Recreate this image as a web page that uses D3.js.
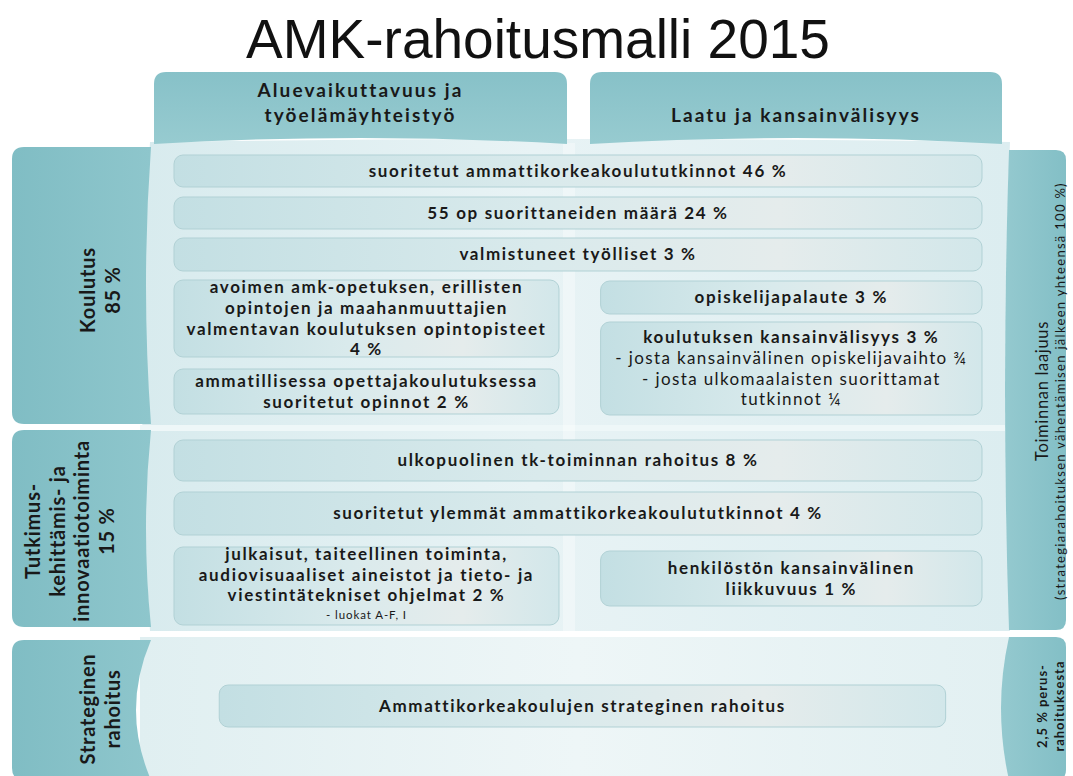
<!DOCTYPE html>
<html><head><meta charset="utf-8">
<script src="https://cdn.jsdelivr.net/npm/d3@7"></script>
<style>body{margin:0;background:#fff}svg{display:block}</style>
</head><body>
<svg id="chart" width="1073" height="776"></svg>
<script>
// ---------- data ----------
const titleText = "AMK-rahoitusmalli 2015";
const columnHeaders = [["Aluevaikuttavuus ja", "työelämäyhteistyö"], ["Laatu ja kansainvälisyys"]];
const sectionLines = [["Koulutus", "85 %"], ["Tutkimus-", "kehittämis- ja", "innovaatiotoiminta", "15 %"], ["Strateginen", "rahoitus"]];
const sideNoteMain = ["Toiminnan laajuus", "2,5 % perus-"];
const sideNoteSub = ["(strategiarahoituksen vähentämisen jälkeen yhteensä 100 %)", "rahoituksesta"];
const itemLines = [
  ["suoritetut ammattikorkeakoulututkinnot"],
  ["55 op suorittaneiden määrä"],
  ["valmistuneet työlliset"],
  ["avoimen amk-opetuksen, erillisten", "opintojen ja maahanmuuttajien", "valmentavan koulutuksen opintopisteet", ""],
  ["ammatillisessa opettajakoulutuksessa", "suoritetut opinnot"],
  ["opiskelijapalaute"],
  ["koulutuksen kansainvälisyys"],
  ["ulkopuolinen tk-toiminnan rahoitus"],
  ["suoritetut ylemmät ammattikorkeakoulututkinnot"],
  ["julkaisut, taiteellinen toiminta,", "audiovisuaaliset aineistot ja tieto- ja", "viestintätekniset ohjelmat"],
  ["henkilöstön kansainvälinen", "liikkuvuus"],
  ["Ammattikorkeakoulujen strateginen rahoitus"]
];
const itemShares = ["46", "24", "3", "4", "2", "3", "3", "8", "4", "2", "1", null];
const itemNotes = [[], [], [], [], [], [],
  ["- josta kansainvälinen opiskelijavaihto ¾", "- josta ulkomaalaisten suorittamat", "tutkinnot ¼"],
  [], [], ["- luokat A-F, I"], [], []];

// ---------- layout (positions / styles kept apart from data) ----------
const colSpan = {full: [0, 1], left: [0, 0.4765], right: [0.528, 1], strat: [0.056, 0.955]};
const itemLayout = [
  {col: "full", y: [155, 187]},
  {col: "full", y: [197, 229]},
  {col: "full", y: [238, 271]},
  {col: "left", y: [280, 357]},
  {col: "left", y: [369, 414]},
  {col: "right", y: [281, 314]},
  {col: "right", y: [322, 415]},
  {col: "full", y: [440, 481]},
  {col: "full", y: [492, 535]},
  {col: "left", y: [547, 625], shift: -2},
  {col: "right", y: [551, 606]},
  {col: "full", y: [685, 727], span: "strat"}
];
const noteKind = [null, null, null, null, null, null, "noteReg", null, null, "noteSmall", null, null];
const x = d3.scaleLinear().domain([0, 1]).range([174, 982]);
const FONT = "Lato, 'Open Sans', sans-serif";
const textCol = "#191919";

const svg = d3.select("#chart");

// text styles, letter-spacing calibrated so sample strings reach the widths seen in the picture
const styles = {
  itemBold: {w: 700, f: 17, sample: "valmentavan koulutuksen opintopisteet", target: 360},
  noteReg: {w: 400, f: 17, sample: "- josta kansainvälinen opiskelijavaihto ¾", target: 352},
  noteSmall: {w: 400, f: 11.5, sample: "- luokat A-F, I", target: 81},
  header: {w: 700, f: 19, sample: "Laatu ja kansainvälisyys", target: 250},
  section: {w: 700, f: 20, sample: "innovaatiotoiminta", target: 182},
  sideMain: {w: 400, f: 16.5, sample: "Toiminnan laajuus", target: 140},
  sideSub: {w: 400, f: 13, sample: "(strategiarahoituksen vähentämisen jälkeen yhteensä 100 %)", target: 418},
  side2: {w: 700, f: 13, sample: "rahoituksesta", target: 91}
};
Object.values(styles).forEach(s => {
  const t = svg.append("text").style("font-family", FONT).style("font-weight", s.w)
    .style("font-size", s.f + "px").text(s.sample);
  const w = t.node().getComputedTextLength();
  t.remove();
  s.ls = Math.max(-0.5, (s.target - w) / s.sample.length);
});
function applyStyle(sel, s) {
  return sel.style("font-family", FONT).style("font-weight", s.w).style("font-size", s.f + "px")
    .style("letter-spacing", s.ls.toFixed(2) + "px").attr("fill", textCol);
}

const defs = svg.append("defs");
function lin(id, stops, x2 = "100%", y2 = "0%") {
  const g = defs.append("linearGradient").attr("id", id).attr("x1", "0%").attr("y1", "0%").attr("x2", x2).attr("y2", y2);
  stops.forEach(([o, c]) => g.append("stop").attr("offset", o).attr("stop-color", c));
}
lin("panel", [["0%", "#d8ebee"], ["45%", "#e8f3f5"], ["100%", "#dcedf0"]]);
lin("panelB", [["0%", "#e0eff1"], ["50%", "#eef6f7"], ["100%", "#e2f0f2"]]);
lin("bar", [["0%", "#c3dfe3"], ["45%", "#d9eaec"], ["75%", "#e5ecec"], ["100%", "#d2e7ea"]]);
lin("tealV", [["0%", "#87c1c8"], ["100%", "#97cbd0"]], "0%", "100%");
lin("tealH", [["0%", "#80bdc4"], ["100%", "#8ec6cc"]]);
lin("tealHr", [["0%", "#94c9cf"], ["100%", "#83bfc6"]]);

// title
svg.append("text").attr("x", 538).attr("y", 58).attr("text-anchor", "middle")
  .style("font-family", "'Liberation Sans', Arial, sans-serif").style("font-size", "55px")
  .attr("fill", "#111").text(titleText);

// background panels
svg.append("path").attr("fill", "url(#panel)")
  .attr("d", "M150,142 Q575,136 1010,142 Q1000,385 1010,631 L150,631 Q134,385 150,142 Z");
svg.append("rect").attr("x", 140).attr("y", 425).attr("width", 875).attr("height", 6).attr("fill", "#eef7f8");
svg.append("path").attr("fill", "url(#panelB)").attr("d", "M140,637 L1015,637 L1015,776 L140,776 Z");
svg.append("rect").attr("x", 563).attr("y", 143).attr("width", 12).attr("height", 488).attr("fill", "#ffffff").attr("opacity", 0.35);

// column headers
const headerBox = [[154, 567], [590, 1002]];
svg.selectAll("path.hdr").data(columnHeaders).join("path").attr("class", "hdr")
  .attr("fill", "url(#tealV)")
  .attr("d", (d, i) => {
    const [x0, x1] = headerBox[i], y0 = 72, y1 = 144, r = 12;
    return `M${x0},${y1} L${x0},${y0 + r} Q${x0},${y0} ${x0 + r},${y0} L${x1 - r},${y0} Q${x1},${y0} ${x1},${y0 + r} L${x1},${y1} Q${(x0 + x1) / 2},${y1 - 12} ${x0},${y1} Z`;
  });
applyStyle(svg.selectAll("text.hdr").data(columnHeaders).join("text").attr("class", "hdr"), styles.header)
  .attr("text-anchor", "middle")
  .each(function (lines, i) {
    const t = d3.select(this), cx = (headerBox[i][0] + headerBox[i][1]) / 2;
    const first = 122 - (lines.length - 1) * 25;
    lines.forEach((l, k) => t.append("tspan").attr("x", cx).attr("y", first + k * 25).text(l));
  });

// left section boxes
const sectionBox = [[147, 424], [430, 627], [640, 780]];
const sectionBase = [[95, 120], [40, 64.5, 89, 114], [95, 120]];
const sectionCenter = [290, 531, 709];
svg.selectAll("path.sec").data(sectionLines).join("path").attr("class", "sec")
  .attr("fill", "url(#tealH)")
  .attr("d", (d, i) => {
    const [y0, y1] = sectionBox[i], x0 = 12, x1 = 151, r = 12, bow = i === 2 ? 15 : 5;
    return `M${x0 + r},${y0} L${x1},${y0} Q${x1 - bow * 2},${(y0 + y1) / 2} ${x1},${y1} L${x0 + r},${y1} Q${x0},${y1} ${x0},${y1 - r} L${x0},${y0 + r} Q${x0},${y0} ${x0 + r},${y0} Z`;
  });
svg.selectAll("g.secT").data(sectionLines).join("g").attr("class", "secT")
  .attr("transform", (d, i) => `translate(0,${sectionCenter[i]}) rotate(-90)`)
  .each(function (lines, i) {
    applyStyle(d3.select(this).selectAll("text").data(lines).join("text"), styles.section)
      .attr("x", 0).attr("y", (l, k) => sectionBase[i][k]).attr("text-anchor", "middle").text(l => l);
  });

// right side boxes
const sideBox = [[150, 630], [637, 780]];
svg.selectAll("path.side").data(sideNoteMain).join("path").attr("class", "side")
  .attr("fill", "url(#tealHr)")
  .attr("d", (d, i) => {
    const [y0, y1] = sideBox[i], x0 = 1009, x1 = 1066, r = 10, bow = i === 1 ? 8 : 4;
    return `M${x0},${y0} L${x1 - r},${y0} Q${x1},${y0} ${x1},${y0 + r} L${x1},${y1 - r} Q${x1},${y1} ${x1 - r},${y1} L${x0},${y1} Q${x0 - bow * 2},${(y0 + y1) / 2} ${x0},${y0} Z`;
  });
const sideCenter = [391, 706];
const sideBase = [[1048, 1065], [1047, 1064]];
const sideStyle = [[styles.sideMain, styles.sideSub], [styles.side2, styles.side2]];
svg.selectAll("g.sideT").data(sideNoteMain).join("g").attr("class", "sideT")
  .attr("transform", (d, i) => `translate(0,${sideCenter[i]}) rotate(-90)`)
  .each(function (main, i) {
    const g = d3.select(this);
    [main, sideNoteSub[i]].forEach((t, k) => applyStyle(g.append("text"), sideStyle[i][k])
      .attr("x", 0).attr("y", sideBase[i][k]).attr("text-anchor", "middle").text(t));
  });

// item boxes
const items = itemLines.map((lines, i) => {
  const share = itemShares[i];
  const ls = lines.slice();
  if (share !== null) ls[ls.length - 1] = (ls[ls.length - 1] + " " + share + " %").trim();
  return {lines: ls, notes: itemNotes[i], lay: itemLayout[i], nk: noteKind[i]};
});
const bx0 = d => x(colSpan[d.lay.span || d.lay.col][0]);
const bx1 = d => x(colSpan[d.lay.span || d.lay.col][1]);
svg.selectAll("rect.item").data(items).join("rect").attr("class", "item")
  .attr("x", bx0).attr("y", d => d.lay.y[0])
  .attr("width", d => bx1(d) - bx0(d)).attr("height", d => d.lay.y[1] - d.lay.y[0])
  .attr("rx", 9).attr("fill", "url(#bar)").attr("stroke", "#b1d1d5").attr("stroke-width", 1);

svg.selectAll("g.itemT").data(items).join("g").attr("class", "itemT")
  .each(function (d) {
    const g = d3.select(this), cx = (bx0(d) + bx1(d)) / 2;
    const rows = d.lines.map(l => ({t: l, s: styles.itemBold}))
      .concat(d.notes.map(n => ({t: n, s: styles[d.nk]})));
    rows.forEach(r => r.lh = Math.max(18, r.s.f * 1.2 + 0.2));
    const total = d3.sum(rows, r => r.lh);
    let y = (d.lay.y[0] + d.lay.y[1]) / 2 - total / 2 + (d.lay.shift || 0);
    rows.forEach(r => {
      applyStyle(g.append("text"), r.s).attr("x", cx).attr("text-anchor", "middle")
        .attr("y", y + r.lh / 2 + 0.34 * r.s.f).text(r.t);
      y += r.lh;
    });
  });
</script>
</body></html>
